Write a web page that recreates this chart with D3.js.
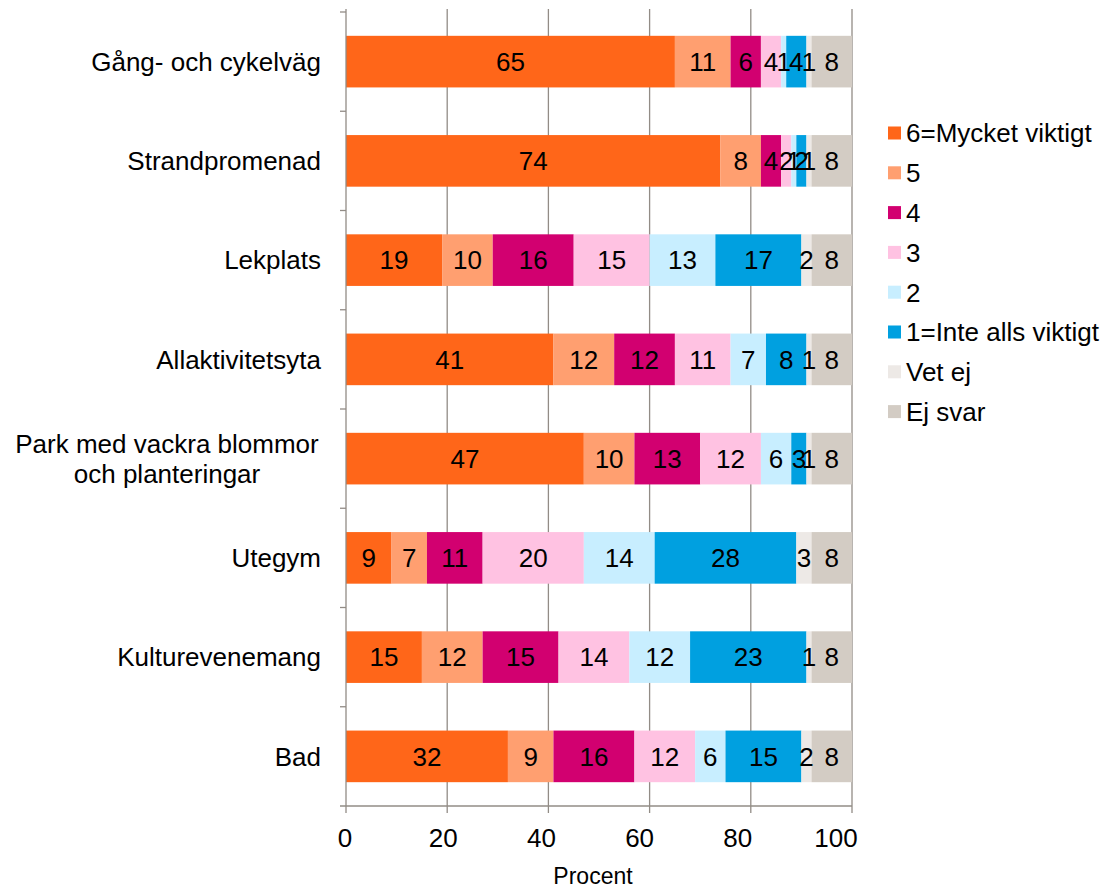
<!DOCTYPE html>
<html><head><meta charset="utf-8">
<script src="https://cdn.jsdelivr.net/npm/d3@7"></script>
<style>body{margin:0;background:#fff;} text{font-family:"Liberation Sans",Arial,sans-serif;}</style>
</head><body><svg id="c" width="1111" height="889"></svg>
<script>
const categories = ["Gång- och cykelväg","Strandpromenad","Lekplats","Allaktivitetsyta","Park med vackra blommor och planteringar","Utegym","Kulturevenemang","Bad"];
const seriesNames = ["6=Mycket viktigt","5","4","3","2","1=Inte alls viktigt","Vet ej","Ej svar"];
const seriesColors = ["#FF6619","#FF9F70","#D20070","#FFC2E2","#C8EEFF","#00A0E0","#EDE9E6","#D3CCC4"];
const s6 = [65,74,19,41,47,9,15,32];
const s5 = [11,8,10,12,10,7,12,9];
const s4 = [6,4,16,12,13,11,15,16];
const s3 = [4,2,15,11,12,20,14,12];
const s2 = [1,1,13,7,6,14,12,6];
const s1 = [4,2,17,8,3,28,23,15];
const vetEj = [1,1,2,1,1,3,1,2];
const ejSvar = [8,8,8,8,8,8,8,8];
const xTicks = [0,20,40,60,80,100];
const xTitle = "Procent";

const series = [s6,s5,s4,s3,s2,s1,vetEj,ejSvar];
const rows = categories.map((c,i)=>{const o={cat:c}; seriesNames.forEach((s,j)=>o[s]=series[j][i]); return o;});
const stack = d3.stack().keys(seriesNames)(rows);

const FS = 26;
const svg = d3.select("#c");
const L=346,R=852,T=12,B=806;
const x = d3.scaleLinear().domain([0,100]).range([L,R]);
const xLab = d3.scaleLinear().domain([0,100]).range([L-1,R-16]);
const y = d3.scaleBand().domain(categories).range([T,B]).paddingInner(0.48).paddingOuter(0.24);
const gridCol = "#928c86";

// gridlines
svg.append("g").selectAll("line").data(xTicks.slice(1)).join("line")
  .attr("x1",d=>x(d)).attr("x2",d=>x(d)).attr("y1",9).attr("y2",B)
  .attr("stroke",gridCol).attr("stroke-width",1.3);

// bars
const g = svg.append("g");
stack.forEach((layer,j)=>{
  g.append("g").attr("fill",seriesColors[j]).selectAll("rect").data(layer).join("rect")
    .attr("x",d=>x(d[0])).attr("width",d=>x(d[1])-x(d[0]))
    .attr("y",d=>y(d.data.cat)).attr("height",y.bandwidth());
});
// labels
stack.forEach((layer,j)=>{
  g.append("g").selectAll("text").data(layer).join("text")
    .attr("x",d=>(x(d[0])+x(d[1]))/2).attr("y",d=>y(d.data.cat)+y.bandwidth()/2)
    .attr("dy","0.36em").attr("text-anchor","middle").attr("font-size",FS).attr("fill","#000")
    .text(d=>d[1]-d[0]);
});

// x axis
svg.append("line").attr("x1",L-6).attr("x2",R).attr("y1",B).attr("y2",B).attr("stroke",gridCol).attr("stroke-width",1.3);
svg.append("g").selectAll("line").data(xTicks).join("line")
  .attr("x1",d=>x(d)).attr("x2",d=>x(d)).attr("y1",B).attr("y2",B+7)
  .attr("stroke",gridCol).attr("stroke-width",1.3);
svg.append("g").selectAll("text").data(xTicks).join("text")
  .attr("x",d=>xLab(d)).attr("y",838).attr("dy","0.36em").attr("text-anchor","middle")
  .attr("font-size",FS).text(d=>d);
svg.append("text").attr("x",(L+R)/2 - 6).attr("y",876).attr("dy","0.36em").attr("text-anchor","middle").attr("font-size",23).text(xTitle);

// y axis
svg.append("line").attr("x1",L).attr("x2",L).attr("y1",9).attr("y2",B).attr("stroke",gridCol).attr("stroke-width",1.3);
const step = y.step();
svg.append("g").selectAll("line").data(d3.range(categories.length)).join("line")
  .attr("x1",L-6).attr("x2",L).attr("y1",i=>y(categories[i])-step*0.24).attr("y2",i=>y(categories[i])-step*0.24)
  .attr("stroke",gridCol).attr("stroke-width",1.3);
const catLines = {"Park med vackra blommor och planteringar":["Park med vackra blommor","och planteringar"]};
categories.forEach(c=>{
  const lines = catLines[c]||[c];
  const cy = y(c)+y.bandwidth()/2;
  const t = svg.append("text").attr("font-size",FS).attr("fill","#000");
  const multi = lines.length>1;
  t.attr("text-anchor", multi ? "middle" : "end");
  lines.forEach((ln,k)=>{
    t.append("tspan").attr("x", multi?167:321).attr("y", cy + (k-(lines.length-1)/2)*30).attr("dy","0.36em").text(ln);
  });
});

// legend
const lg = svg.append("g");
seriesNames.forEach((s,i)=>{
  const ly = 133 + i*39.8;
  lg.append("rect").attr("x",888).attr("y",ly-6.5).attr("width",13).attr("height",13).attr("fill",seriesColors[i]);
  lg.append("text").attr("x",906).attr("y",ly).attr("dy","0.36em").attr("font-size",FS).text(s);
});
</script></body></html>
